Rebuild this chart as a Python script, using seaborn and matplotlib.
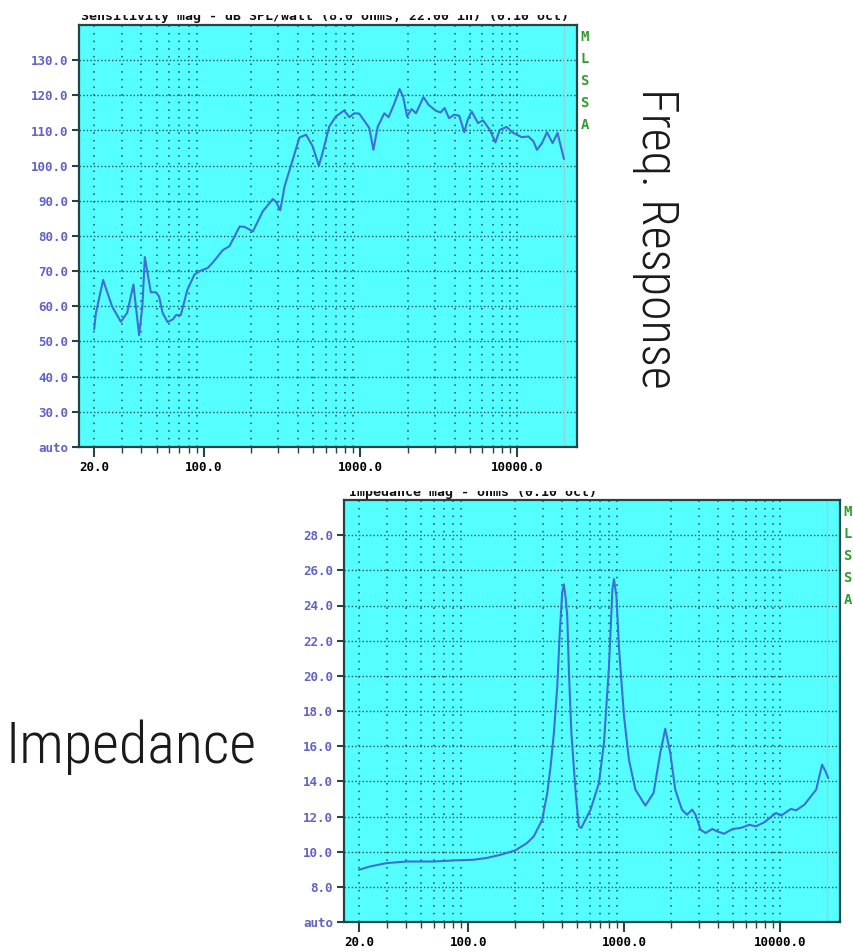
import numpy as np
import matplotlib
matplotlib.use("Agg")
import matplotlib.pyplot as plt
import matplotlib.ticker as mticker
import seaborn as sns

# frequency response (dB SPL/watt)
spl_freq = [20, 20.5, 22.8, 26.0, 29.6, 32.5, 35.6, 38.7, 40.6, 42.1, 46.0, 49.5, 51.9, 54.6,
            58.8, 63.5, 66.6, 71.4, 78.6, 87.2, 93.9, 106, 114, 132.5, 146, 169.5, 182, 206,
            238, 276, 289, 308, 328, 370, 408, 450, 496, 543, 573, 632, 697, 787, 849, 915,
            983, 1084, 1140, 1210, 1290, 1420, 1513, 1650, 1777, 1870, 1985, 2120, 2263,
            2525, 2722, 3010, 3243, 3445, 3675, 3960, 4270, 4600, 4840, 5130, 5625, 6060,
            6690, 7265, 7750, 8570, 9460, 10700, 11810, 12730, 13370, 14400, 15500, 16840,
            18100, 19000, 19900]
spl_db = [53.5, 58.0, 67.5, 60.0, 55.6, 58.2, 66.2, 51.8, 60.0, 74.0, 64.0, 64.0, 62.8, 58.2,
          55.5, 56.3, 57.5, 57.5, 64.7, 69.0, 70.0, 70.9, 72.4, 76.0, 77.1, 82.7, 82.6, 81.3,
          87.0, 90.5, 89.8, 87.3, 94.1, 101.7, 108.0, 108.8, 105.5, 100.0, 103.6, 111.1,
          114.0, 115.7, 113.8, 114.9, 114.8, 112.1, 110.7, 104.5, 111.1, 114.9, 113.8,
          117.8, 121.8, 119.7, 114.0, 116.1, 114.9, 119.5, 117.3, 115.7, 115.1, 116.4,
          113.5, 114.5, 114.2, 109.5, 113.1, 115.4, 112.1, 112.9, 110.2, 106.6, 110.2,
          111.0, 109.3, 108.1, 108.3, 106.9, 104.5, 106.4, 109.5, 106.4, 109.3, 105.5, 101.9]

# impedance magnitude (ohms)
imp_freq = [20, 23.5, 30.1, 40.4, 60, 80.5, 108, 131, 161, 200, 238, 263, 298, 321, 337, 354,
            372, 386, 400, 410, 422, 431, 442, 458, 488, 511, 530, 608, 688, 741, 798, 839,
            859, 890, 926, 996, 1070, 1178, 1365, 1540, 1700, 1830, 1970, 2120, 2340, 2520,
            2720, 2860, 3080, 3320, 3660, 3950, 4360, 4930, 5580, 6320, 6970, 7880, 9370,
            10100, 11700, 12600, 14250, 16960, 18500, 19450, 20250]
imp_ohm = [8.97, 9.16, 9.35, 9.44, 9.44, 9.5, 9.54, 9.64, 9.82, 10.07, 10.49, 10.87, 11.82,
           13.34, 14.85, 16.76, 19.41, 22.46, 24.73, 25.2, 24.35, 23.4, 20.18, 16.76, 13.34,
           11.44, 11.35, 12.39, 13.9, 16.19, 20.55, 24.92, 25.5, 24.54, 21.5, 17.7, 15.24,
           13.53, 12.62, 13.34, 15.62, 16.99, 15.62, 13.53, 12.39, 12.1, 12.39, 12.1, 11.25,
           11.06, 11.29, 11.15, 11.02, 11.29, 11.35, 11.53, 11.44, 11.67, 12.2, 12.05, 12.43,
           12.35, 12.67, 13.53, 14.95, 14.57, 14.19]

x_major = [20, 100, 1000, 10000]
x_labels = ["20.0", "100.0", "1000.0", "10000.0"]
x_minor = [m * d for d in (10, 100, 1000) for m in range(2, 10)] + [10000]
x_minor = [f for f in x_minor if f >= 20]

spl_ticks = [20, 30, 40, 50, 60, 70, 80, 90, 100, 110, 120, 130]
imp_ticks = [6, 8, 10, 12, 14, 16, 18, 20, 22, 24, 26, 28]

top_title = "Sensitivity mag - dB SPL/watt (8.0 ohms, 22.00 in) (0.10 oct)"
bottom_title = "Impedance mag - ohms (0.10 oct)"

sns.set_style("ticks")
plt.rcParams["font.family"] = ["DejaVu Sans Mono", "DejaVu Sans"]

W, H = 854, 952
fig = plt.figure(figsize=(W / 100, H / 100), dpi=100)

bg = "#55ffff"
gridc = "#1d4f4f"
curve = "#3d6fd6"
ylab = "#6262c8"
frame = "#234545"


def fx(px):
    return px / W


def fy(py):
    return 1 - py / H


def mlssa_panel(rect, freq, vals, yticks, ylim):
    ax = fig.add_axes(rect)
    ax.set_facecolor(bg)
    ax.set_xscale("log")
    ax.set_xlim(16.0, 24100)
    ax.set_ylim(*ylim)

    # grid like the MLSSA screen: dotted columns and rows
    for f in x_minor:
        ax.axvline(f, color=gridc, lw=1.1, ls=(0, (1, 4)), zorder=1)
    for t in yticks[1:]:
        ax.axhline(t, color=gridc, lw=1.0, ls=(0, (1, 1.6)), zorder=1)
    ax.axvline(20000, color="#8fd6d6", lw=1.0, zorder=1)

    sns.lineplot(x=freq, y=vals, ax=ax, color=curve, lw=1.5, zorder=3)

    ax.xaxis.set_major_locator(mticker.FixedLocator(x_major))
    ax.xaxis.set_major_formatter(mticker.FixedFormatter(x_labels))
    ax.xaxis.set_minor_locator(mticker.FixedLocator(x_minor))
    ax.xaxis.set_minor_formatter(mticker.NullFormatter())
    ax.set_yticks(yticks)
    ax.set_yticklabels(["auto"] + ["%.1f" % t for t in yticks[1:]])

    ax.tick_params(axis="x", which="major", length=7, width=1.5, color=frame,
                   labelsize=9, pad=3, labelcolor="black")
    ax.tick_params(axis="x", which="minor", length=4, width=1.0, color=frame)
    ax.tick_params(axis="y", length=5, width=1.5, color=frame, labelsize=9,
                   labelcolor=ylab, pad=3)
    for lab in ax.get_xticklabels():
        lab.set_fontweight("bold")
    for lab in ax.get_yticklabels():
        lab.set_fontweight("bold")

    for s in ax.spines.values():
        s.set_color(frame)
        s.set_linewidth(1.6)
    ax.set_xlabel("")
    ax.set_ylabel("")

    for i, ch in enumerate("MLSSA"):
        ax.text(1.007, 0.972 - i * 0.052, ch, transform=ax.transAxes, color="#2e9e2e",
                fontsize=10, fontweight="bold", ha="left", va="center")
    return ax


top = mlssa_panel([fx(79), fy(447), fx(498), 422 / H], spl_freq, spl_db, spl_ticks, (20, 140))
bot = mlssa_panel([fx(344), fy(922), fx(496), 422 / H], imp_freq, imp_ohm, imp_ticks, (6, 30))


def clipped_title(x0, clip_top, baseline, txt):
    # the screenshots were cropped through their header line
    tax = fig.add_axes([0, fy(baseline + 4), 1, (baseline + 4 - clip_top) / H])
    tax.set_axis_off()
    t = tax.text(fx(x0), 4 / (baseline + 4 - clip_top), txt, transform=tax.transAxes,
                 fontsize=9.5, fontweight="bold", color="#111111", va="baseline",
                 ha="left")
    t.set_clip_box(tax.bbox)
    t.set_clip_on(True)


clipped_title(81, 15, 20, top_title)
clipped_title(349, 491, 496, bottom_title)

big = ["Roboto Condensed", "Roboto", "DejaVu Sans"]
fig.text(fx(656), fy(238), "Freq. Response", rotation=270, ha="center", va="center",
         fontsize=36, family=big, fontweight=300, color="#1a1a1a")
fig.text(fx(131), fy(747), "Impedance", ha="center", va="center",
         fontsize=42, family=big, fontweight=300, color="#1a1a1a")

fig.savefig("out.png", dpi=100, facecolor="white")
